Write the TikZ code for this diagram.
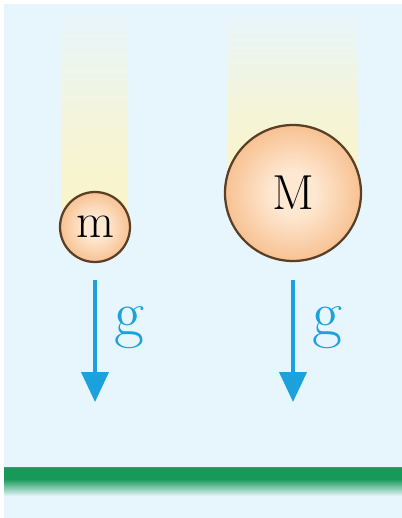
\documentclass[tikz,border=0pt]{standalone}
\usepackage{tikz}
\usetikzlibrary{arrows.meta,positioning}
\definecolor{skybg}{HTML}{E7F5FC}
\definecolor{trailyel}{HTML}{FBF4C4}
\definecolor{ballin}{HTML}{FEE8D2}
\definecolor{ballout}{HTML}{F2A05A}
\definecolor{balledge}{HTML}{5A3E26}
\definecolor{gravblue}{HTML}{1BA1DC}
\definecolor{groundgreen}{HTML}{17995A}
\pgfdeclareradialshading{ballshade}{\pgfpoint{0bp}{0bp}}{%
  color(0bp)=(ballin); color(8bp)=(ballin); color(40bp)=(ballout); color(50bp)=(ballout)}

\begin{document}
\begin{tikzpicture}[
  x=0.02cm, y=-0.02cm,
  ballbox/.style={circle, draw=balledge, line width=0.045cm, shading=ballshade,
                  inner sep=0pt, font=\fontsize{28}{30}\selectfont},
  trailbox/.style={top color=skybg, bottom color=trailyel, middle color=trailyel!60!skybg},
  gravarrow/.style={draw=gravblue, line width=0.08cm,
                    -{Triangle[width=0.54cm, length=0.6cm]}},
  glab/.style={text=gravblue, font=\fontsize{37}{40}\selectfont, inner sep=0pt}
]
\useasboundingbox (0,0) rectangle (402,518);

% Background
\fill[white] (0,0) rectangle (402,518);
\fill[skybg] (4,4) rectangle (402,518);

% Trails
\shade[trailbox] (62,10) rectangle (128,227);
\shade[trailbox] (228,10) rectangle (358,193);

% Balls
\node[ballbox, minimum size=1.4cm]  (m) at (95,227)  {m};
\node[ballbox, minimum size=2.72cm] (M) at (293,193) {M};

% Gravity arrows
\coordinate (gm1) at (95,280);
\coordinate (gm2) at (95,402);
\coordinate (gM1) at (293,280);
\coordinate (gM2) at (293,402);
\draw[gravarrow] (gm1) -- (gm2);
\draw[gravarrow] (gM1) -- (gM2);
\node[glab] (gmlab) at (129,328) {g};
\node[glab] (gMlab) at (327,328) {g};

% Ground
\fill[groundgreen] (4,467) rectangle (402,479);
\shade[top color=groundgreen, bottom color=skybg] (4,479) rectangle (402,496);
\draw[groundgreen!60!black!70, line width=0.02cm] (4,467) -- (402,467);

\end{tikzpicture}
\end{document}
